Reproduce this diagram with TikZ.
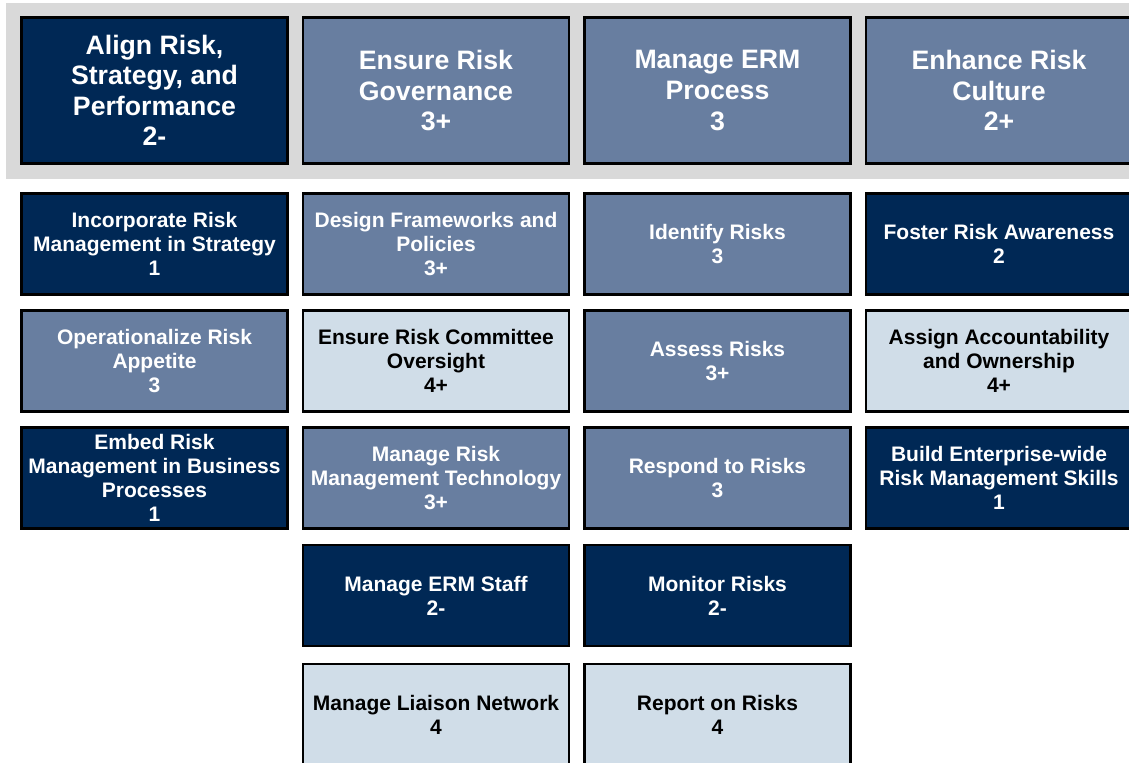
\documentclass[tikz,border=0pt]{standalone}
\usepackage{fontspec}
\setmainfont{Liberation Sans}
\usepackage{xcolor}

\definecolor{navy}{RGB}{0,40,85}
\definecolor{slate}{RGB}{104,126,160}
\definecolor{pale}{RGB}{208,221,232}
\definecolor{band}{RGB}{217,217,217}

\begin{document}
\begin{tikzpicture}[x=0.75pt,y=-0.75pt,
        cell/.style={draw=black,line width=2pt,inner sep=0pt,align=center,
            minimum width=199.5pt,minimum height=75.75pt,
            font=\fontsize{15.75}{18}\selectfont\bfseries},
        head/.style={cell,minimum height=109.5pt,
            font=\fontsize{20}{22.9}\selectfont\bfseries},
        dark/.style={fill=navy,text=white},
        mid/.style={fill=slate,text=white},
        light/.style={fill=pale,text=black}]
            \useasboundingbox (0,0) rectangle (1129,763);
            \clip (0,0) rectangle (1129,763);
            \fill[band] (6,3) rectangle (1140,179);

            % headers
            \node (align) at (154.5,90.5) [head,dark] {Align Risk,\\Strategy, and\\Performance\\2-};
            \node (gov) at (436,90.5) [head,mid] {Ensure Risk\\Governance\\3+};
            \node (erm) at (717.5,90.5) [head,mid] {Manage ERM\\Process\\3};
            \node (cult) at (999,90.5) [head,mid] {Enhance Risk\\Culture\\2+};

            % first column
            \node (incorp) at (154.5,244) [cell,dark] {Incorporate Risk\\Management in Strategy\\1};
            \node (appet) at (154.5,361) [cell,mid] {Operationalize Risk\\Appetite\\3};
            \node (embed) at (154.5,478) [cell,dark] {Embed Risk\\Management in Business\\Processes\\1};

            % second column
            \node (design) at (436,244) [cell,mid] {Design Frameworks and\\Policies\\3+};
            \node (comm) at (436,361) [cell,light] {Ensure Risk Committee\\Oversight\\4+};
            \node (tech) at (436,478) [cell,mid] {Manage Risk\\Management Technology\\3+};
            \node (staff) at (436,595.5) [cell,dark] {Manage ERM Staff\\2-};
            \node (liais) at (436,714.5) [cell,light] {Manage Liaison Network\\4};

            % third column
            \node (ident) at (717.5,244) [cell,mid] {Identify Risks\\3};
            \node (assess) at (717.5,361) [cell,mid] {Assess Risks\\3+};
            \node (resp) at (717.5,478) [cell,mid] {Respond to Risks\\3};
            \node (monit) at (717.5,595.5) [cell,dark] {Monitor Risks\\2-};
            \node (report) at (717.5,714.5) [cell,light] {Report on Risks\\4};

            % fourth column
            \node (aware) at (999,244) [cell,dark] {Foster Risk Awareness\\2};
            \node (owner) at (999,361) [cell,light] {Assign Accountability\\and Ownership\\4+};
            \node (skill) at (999,478) [cell,dark] {Build Enterprise-wide\\Risk Management Skills\\1};

        \end{tikzpicture}
\end{document}
